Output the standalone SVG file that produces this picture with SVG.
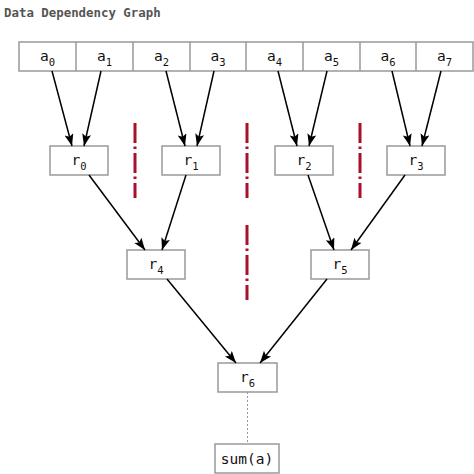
<svg xmlns="http://www.w3.org/2000/svg" width="474" height="474" viewBox="0 0 474 474">
<style>
.box{fill:#fff;stroke:#999;stroke-width:1.5}
.lbl{font-family:"DejaVu Sans Mono",monospace;font-size:14.5px;fill:#111;text-anchor:middle}
.sub{font-size:10.5px}
.edge{stroke:#000;stroke-width:1.5;fill:none;marker-end:url(#arr)}
.sep{stroke:#a8102c;stroke-width:3;stroke-dasharray:20 3.5 2.5 4;fill:none}
.title{font-family:"DejaVu Sans Mono",monospace;font-weight:bold;font-size:12.4px;fill:#555}
</style>
<defs>
<marker id="arr" markerUnits="userSpaceOnUse" markerWidth="13" markerHeight="10" refX="12" refY="4.5" orient="auto">
<path d="M0,0 L12,4.5 L0,9 L2.5,4.5 Z" fill="#000"/>
</marker>
</defs>
<rect width="474" height="474" fill="#fff"/>
<text class="title" x="4" y="17">Data Dependency Graph</text>

<g id="array">
<rect class="box" x="19" y="42" width="454" height="29"/>
<path d="M76,42V71M133,42V71M190,42V71M246,42V71M303,42V71M360,42V71M416,42V71" stroke="#999" stroke-width="1.5"/>
<g id="a0"><text class="lbl" x="47.5" y="61">a<tspan class="sub" dy="5">0</tspan></text></g>
<g id="a1"><text class="lbl" x="104.5" y="61">a<tspan class="sub" dy="5">1</tspan></text></g>
<g id="a2"><text class="lbl" x="161.5" y="61">a<tspan class="sub" dy="5">2</tspan></text></g>
<g id="a3"><text class="lbl" x="218" y="61">a<tspan class="sub" dy="5">3</tspan></text></g>
<g id="a4"><text class="lbl" x="274.5" y="61">a<tspan class="sub" dy="5">4</tspan></text></g>
<g id="a5"><text class="lbl" x="331.5" y="61">a<tspan class="sub" dy="5">5</tspan></text></g>
<g id="a6"><text class="lbl" x="388" y="61">a<tspan class="sub" dy="5">6</tspan></text></g>
<g id="a7"><text class="lbl" x="444.5" y="61">a<tspan class="sub" dy="5">7</tspan></text></g>
</g>

<g id="r0"><rect class="box" x="50" y="146" width="58" height="29"/><text class="lbl" x="79" y="165">r<tspan class="sub" dy="5">0</tspan></text></g>
<g id="r1"><rect class="box" x="162" y="146" width="58" height="29"/><text class="lbl" x="191" y="165">r<tspan class="sub" dy="5">1</tspan></text></g>
<g id="r2"><rect class="box" x="275" y="146" width="58" height="29"/><text class="lbl" x="304" y="165">r<tspan class="sub" dy="5">2</tspan></text></g>
<g id="r3"><rect class="box" x="387" y="146" width="58" height="29"/><text class="lbl" x="416" y="165">r<tspan class="sub" dy="5">3</tspan></text></g>
<g id="r4"><rect class="box" x="127" y="250" width="58" height="29"/><text class="lbl" x="156" y="269">r<tspan class="sub" dy="5">4</tspan></text></g>
<g id="r5"><rect class="box" x="311" y="250" width="58" height="29"/><text class="lbl" x="340" y="269">r<tspan class="sub" dy="5">5</tspan></text></g>
<g id="r6"><rect class="box" x="218" y="363" width="59" height="29"/><text class="lbl" x="247.5" y="382">r<tspan class="sub" dy="5">6</tspan></text></g>
<g id="sum"><rect class="box" x="215" y="444" width="64" height="29"/><text class="lbl" x="247" y="464">sum(a)</text></g>

<g id="separators">
<path class="sep" d="M135,123V198"/>
<path class="sep" d="M247,123V198"/>
<path class="sep" d="M360,123V198"/>
<path class="sep" d="M247,225V300"/>
</g>

<g id="connectors">
<path class="edge" d="M52,71L72,146"/>
<path class="edge" d="M101,71L84,146"/>
<path class="edge" d="M166,71L185,146"/>
<path class="edge" d="M214,71L197,146"/>
<path class="edge" d="M278,71L297,146"/>
<path class="edge" d="M327,71L309,146"/>
<path class="edge" d="M392,71L410,146"/>
<path class="edge" d="M441,71L422,146"/>
<path class="edge" d="M89,175L145,250"/>
<path class="edge" d="M186,175L162,250"/>
<path class="edge" d="M308,175L334,250"/>
<path class="edge" d="M405,175L351,250"/>
<path class="edge" d="M167,279L236,363"/>
<path class="edge" d="M327,279L260,363"/>
<path d="M247.5,392V444" stroke="#999" stroke-width="1" stroke-dasharray="2 2" fill="none"/>
</g>
</svg>
